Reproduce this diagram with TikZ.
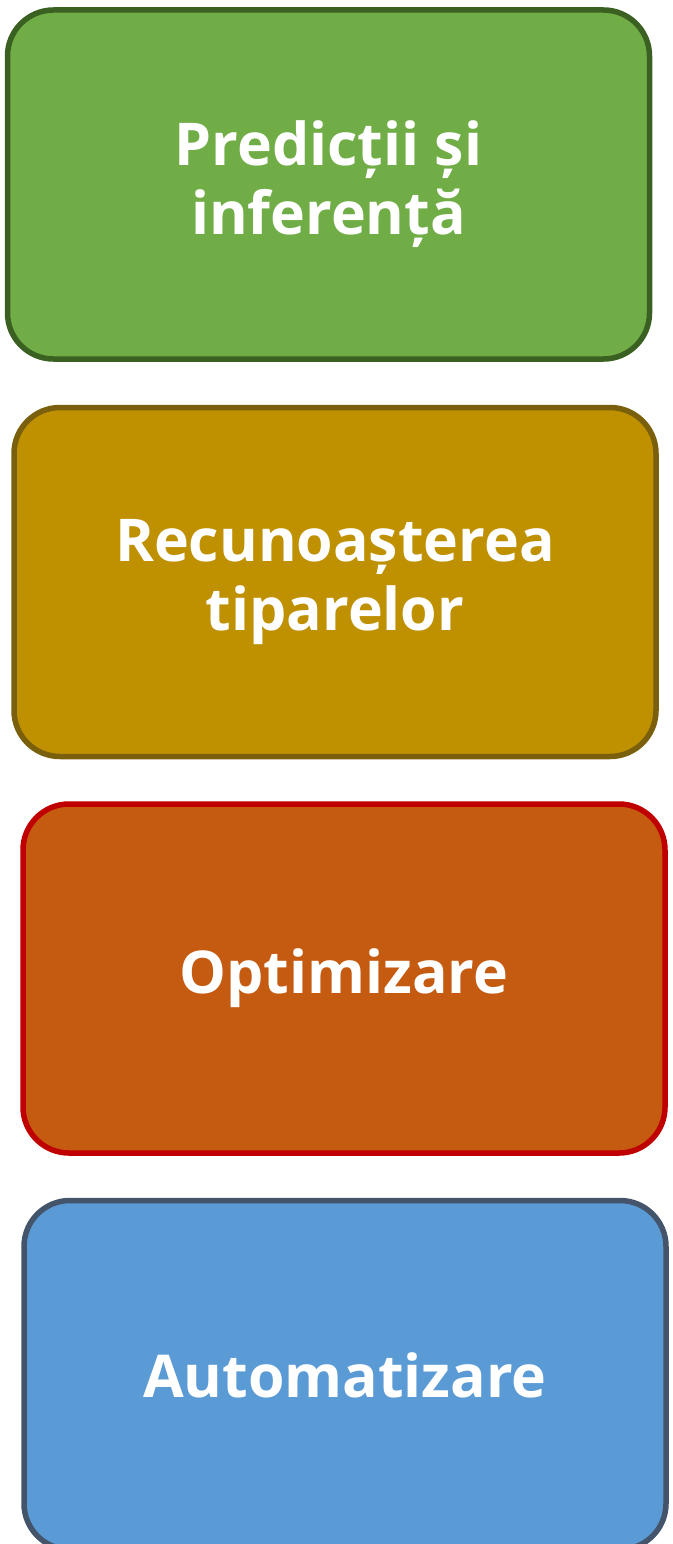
\documentclass[tikz,border=0pt]{standalone}
\usepackage{fontspec}
\setmainfont{Open Sans}

\definecolor{predfill}{HTML}{70AD47}
\definecolor{predline}{HTML}{3B6122}
\definecolor{recfill}{HTML}{BF9000}
\definecolor{recline}{HTML}{7A5F0C}
\definecolor{optfill}{HTML}{C55A11}
\definecolor{optline}{HTML}{C00000}
\definecolor{autfill}{HTML}{5B9BD5}
\definecolor{autline}{HTML}{44546A}

\begin{document}
\begin{tikzpicture}[x=1pt,y=-1pt]
  \tikzstyle{card}=[rectangle,rounded corners=46pt,line width=5.5pt,
    minimum width=642pt,minimum height=349pt,inner sep=0pt,
    text=white,align=center,font=\bfseries\fontsize{59}{69}\selectfont]

  \useasboundingbox (0,0) rectangle (672,1544);

  \node[card,fill=predfill,draw=predline] (pred) at (328.5,184.5) {Predicții și\\inferență};
  \node[card,fill=recfill,draw=recline] (rec) at (335,582) {Recunoașterea\\tiparelor};
  \node[card,fill=optfill,draw=optline] (opt) at (344,978.5) {Optimizare};
  \node[card,fill=autfill,draw=autline] (aut) at (345,1375) {Automatizare};
\end{tikzpicture}
\end{document}
